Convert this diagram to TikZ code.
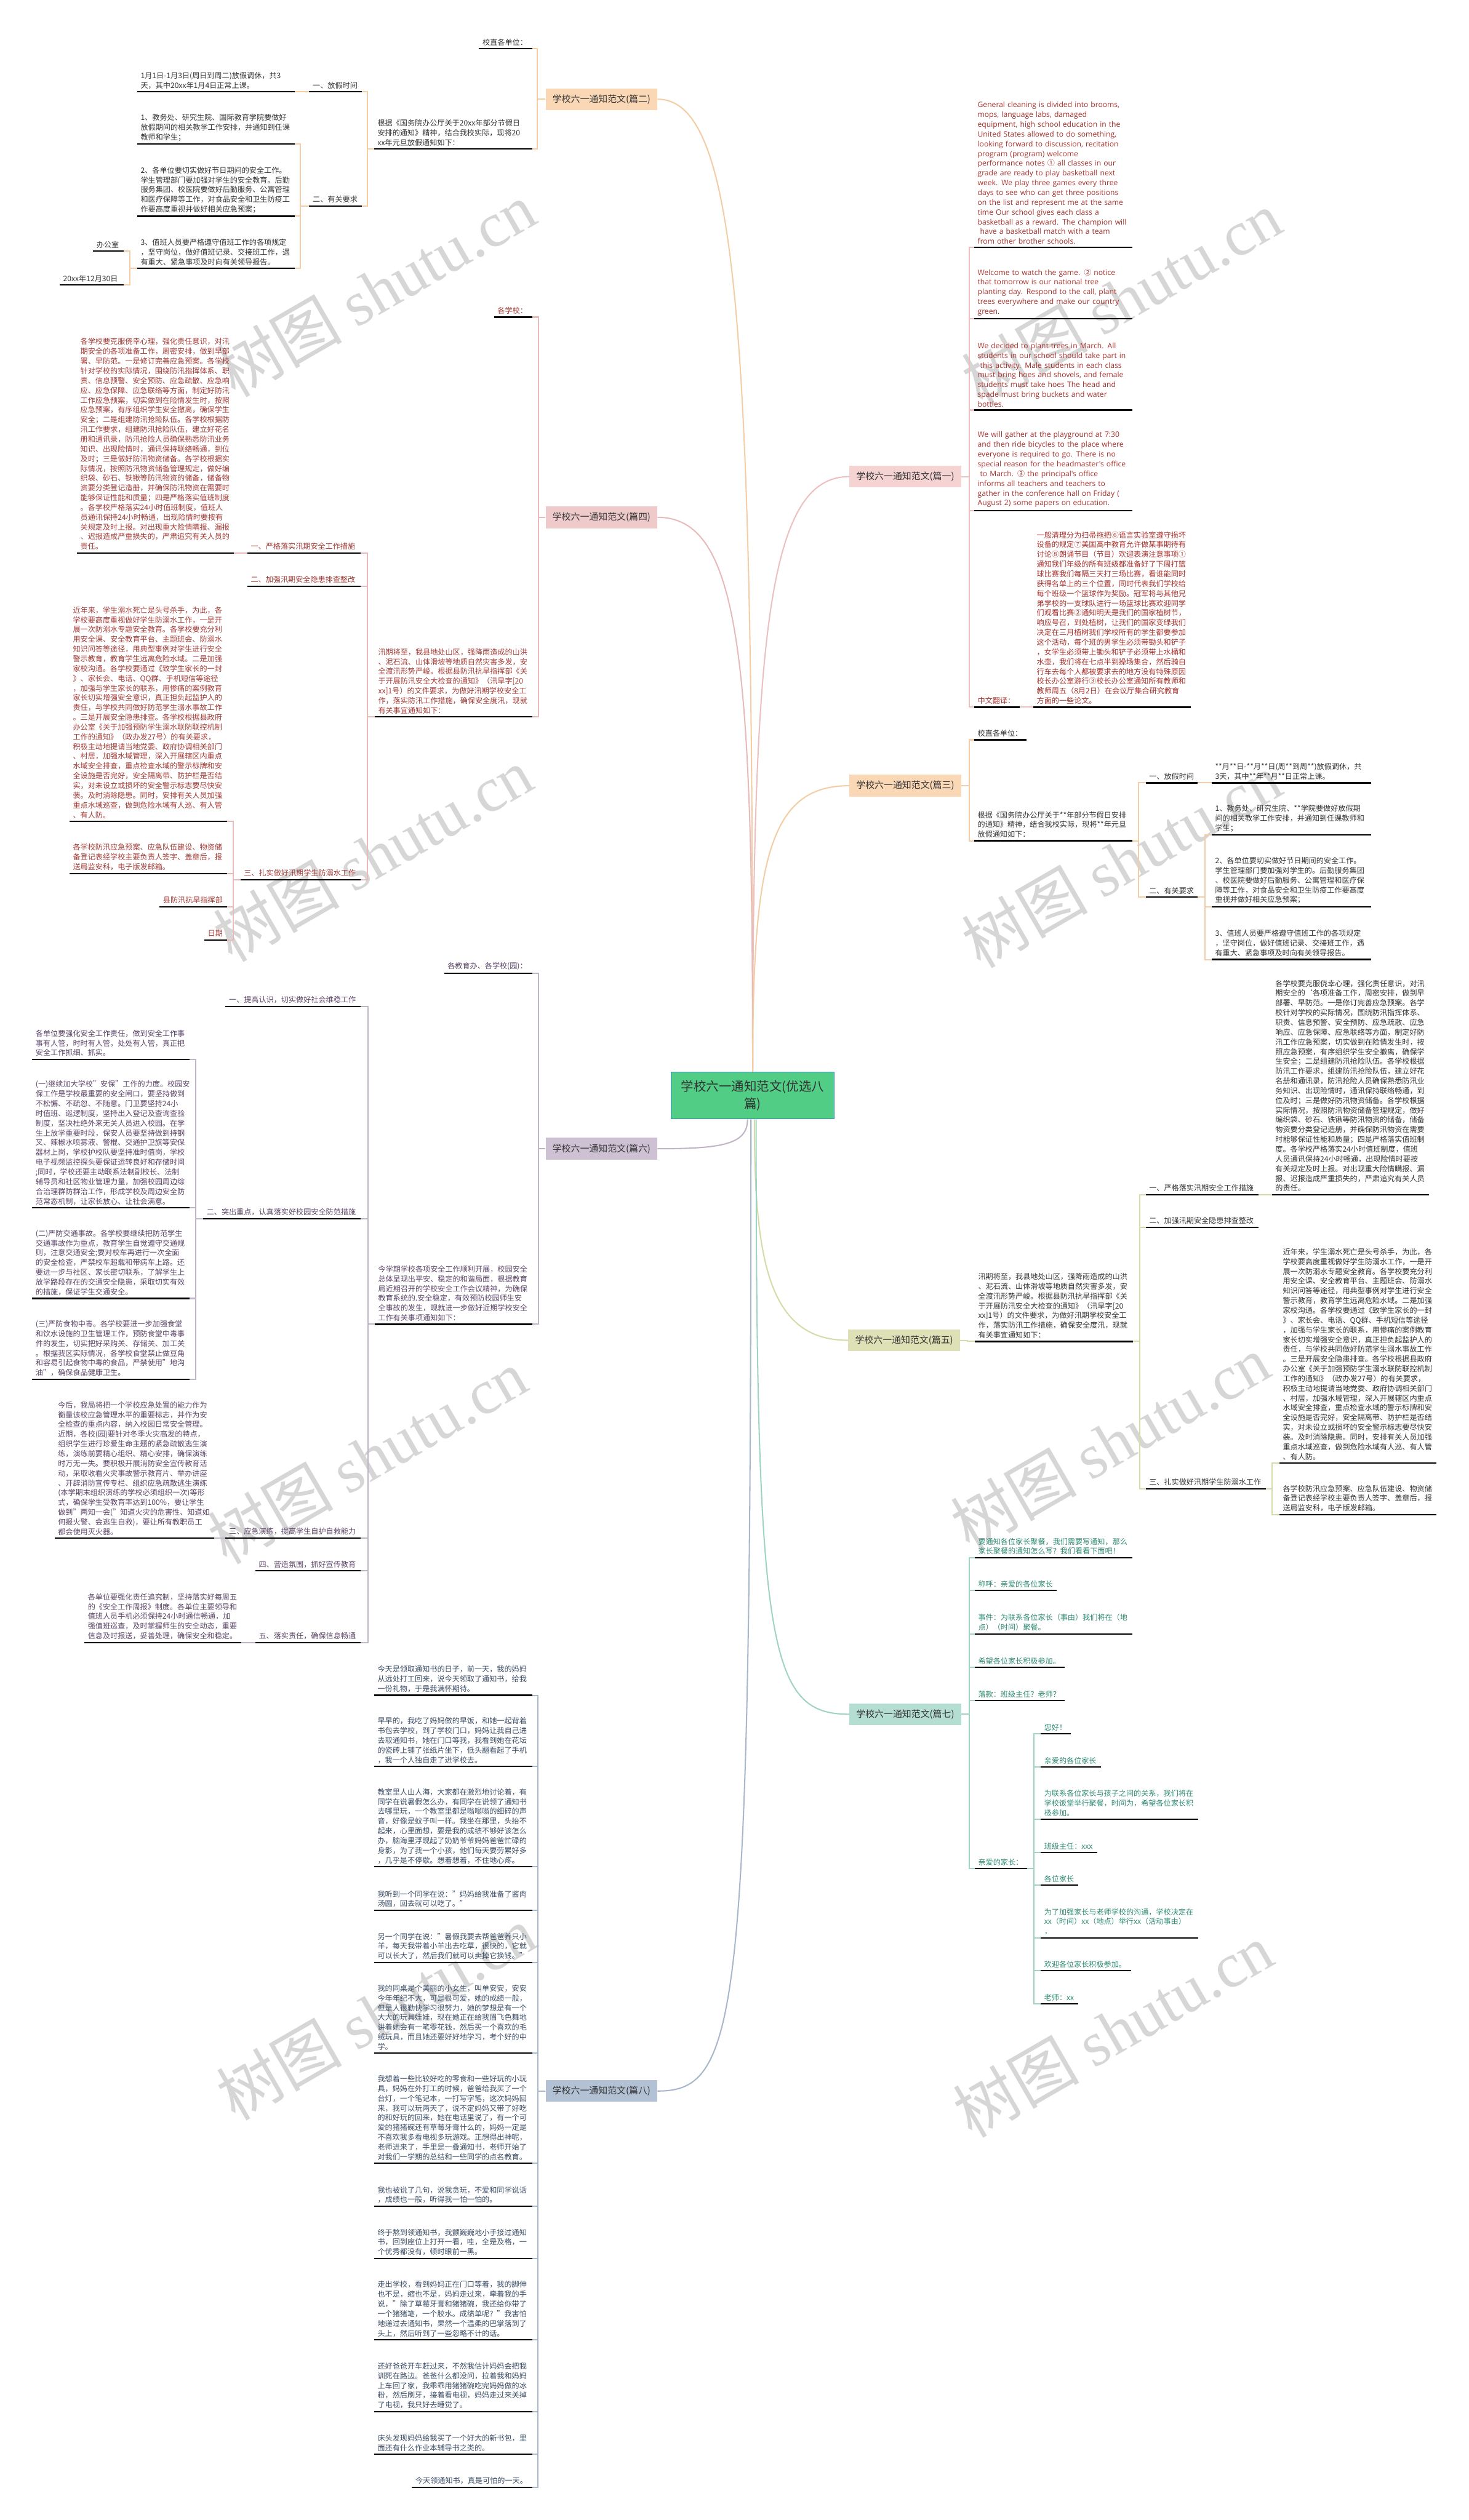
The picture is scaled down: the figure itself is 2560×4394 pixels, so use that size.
\documentclass[tikz,border=0pt]{standalone}
\usepackage{fontspec}
\setmainfont{Noto Sans CJK SC}
\newfontfamily\enfont{Open Sans}
\newfontfamily\wmfont{Liberation Serif}
\usetikzlibrary{calc}
\definecolor{rootF}{HTML}{52CD86}
\definecolor{rootD}{HTML}{3A8EB8}
\definecolor{f1}{HTML}{F6D3D3}\definecolor{l1}{HTML}{EDC0C0}\definecolor{t1}{HTML}{A8322D}
\definecolor{f2}{HTML}{FAD8B6}\definecolor{l2}{HTML}{F2CDA5}\definecolor{t2}{HTML}{333333}
\definecolor{f3}{HTML}{FAD8B6}\definecolor{l3}{HTML}{F2CDA5}\definecolor{t3}{HTML}{333333}
\definecolor{f4}{HTML}{EFCACA}\definecolor{l4}{HTML}{E8BBBB}\definecolor{t4}{HTML}{A23A35}
\definecolor{f5}{HTML}{DEE1B6}\definecolor{l5}{HTML}{D6DBA8}\definecolor{t5}{HTML}{333333}
\definecolor{f6}{HTML}{CDC1D3}\definecolor{l6}{HTML}{C0B5C7}\definecolor{t6}{HTML}{5B4467}
\definecolor{f7}{HTML}{B5DED3}\definecolor{l7}{HTML}{A0D2C5}\definecolor{t7}{HTML}{2E8A72}
\definecolor{f8}{HTML}{B3C1D4}\definecolor{l8}{HTML}{A9B7CB}\definecolor{t8}{HTML}{3C4E66}
\definecolor{wm}{HTML}{D6D6D6}
\newcommand\Lc[4]{\draw[con,#1] (#2) -- ++(-#3,0) |- (#4);}
\newcommand\Rc[4]{\draw[con,#1] (#2) -- ++(#3,0) |- (#4);}
\newcommand\cc[1]{{\rmfamily #1}}
\tikzset{
  lf/.style={anchor=south west, inner xsep=6pt, inner ysep=5pt, align=left, font=\fontsize{13}{17}\selectfont, append after command={(\tikzlastnode.south west) edge[draw=black,line width=2.4pt] (\tikzlastnode.south east)}},
  en/.style={font=\enfont\fontsize{13}{17}\selectfont},
  br/.style={minimum width=195pt, minimum height=38pt, inner sep=2pt, font=\fontsize{16}{20}\selectfont},
  con/.style={line width=2.2pt},
  wmk/.style={rotate=30, text=wm, font=\fontsize{110}{120}\selectfont, inner sep=0pt},
}
\begin{document}
\begin{tikzpicture}[x=1pt,y=-1pt]
\fill[white] (0,0) rectangle (2560,4394);
\useasboundingbox (0,0) rectangle (2560,4394);
% watermarks
\node[wmk] (w1) at (655,505) {树图 {\wmfont shutu.cn}};
\node[wmk] (w2) at (1955,520) {树图 {\wmfont shutu.cn}};
\node[wmk] (w3) at (650,1490) {树图 {\wmfont shutu.cn}};
\node[wmk] (w4) at (1955,1500) {树图 {\wmfont shutu.cn}};
\node[wmk] (w5) at (640,2540) {树图 {\wmfont shutu.cn}};
\node[wmk] (w6) at (1935,2515) {树图 {\wmfont shutu.cn}};
\node[wmk] (w7) at (655,3510) {树图 {\wmfont shutu.cn}};
\node[wmk] (w8) at (1940,3540) {树图 {\wmfont shutu.cn}};

% root
\node[draw=rootD, fill=rootF, line width=1.5pt, minimum width=284pt, minimum height=82pt, align=center, font=\fontsize{22}{30}\selectfont, text=black!80] (root) at (1312,1910) {学校六一通知范文(优选八\\篇)};

% branch boxes
\node[br, fill=f2, text=black!80] (b2) at (1048.5,173) {学校六一通知范文(篇二)};
\node[br, fill=f1, text=black!80] (b1) at (1578,831) {学校六一通知范文(篇一)};
\node[br, fill=f4, text=black!80] (b4) at (1048.5,902) {学校六一通知范文(篇四)};
\node[br, fill=f3, text=black!80] (b3) at (1578,1370) {学校六一通知范文(篇三)};
\node[br, fill=f6, text=black!80] (b6) at (1048.5,2003) {学校六一通知范文(篇六)};
\node[br, fill=f5, text=black!80] (b5) at (1576,2337) {学校六一通知范文(篇五)};
\node[br, fill=f7, text=black!80] (b7) at (1578,2989) {学校六一通知范文(篇七)};
\node[br, fill=f8, text=black!80] (b8) at (1048.5,3646) {学校六一通知范文(篇八)};

% curves
\draw[con,l2] (root.north) .. controls (1312,600) and (1290,173) .. (b2.east);
\draw[con,l1] (root.north) .. controls (1312,1100) and (1340,831) .. (b1.west);
\draw[con,l4] (root.north) .. controls (1312,1150) and (1290,902) .. (b4.east);
\draw[con,l3] (root.north) .. controls (1312,1500) and (1340,1370) .. (b3.west);
\draw[con,l6] ($(root.south)+(-9,0)$) .. controls (1303,1995) and (1260,2003) .. (b6.east);
\draw[con,l5] ($(root.south)+(3,0)$) .. controls (1315,2200) and (1340,2337) .. (b5.west);
\draw[con,l7] ($(root.south)+(6,0)$) .. controls (1318,2880) and (1340,2989) .. (b7.west);
\draw[con,l8] ($(root.south)+(-3,0)$) .. controls (1309,3520) and (1290,3646) .. (b8.east);

% ===== 篇二 =====
\node[lf, text=t2, text width=80pt] (n2a) at (835,85) {校直各单位：};
\node[lf, text=t2, text width=263pt] (n2b) at (652,260) {根据《国务院办公厅关于20xx年部分节假日\\安排的通知》精神，结合我校实际，现将20\\xx年元旦放假通知如下：};
\node[lf, text=t2, text width=79pt] (n2c) at (539,160) {一、放假时间};
\node[lf, text=t2, text width=79pt] (n2d) at (539,359) {二、有关要求};
\node[lf, text=t2, text width=262pt] (n2e) at (239,160) {1月1日-1月3日(周日到周二)放假调休，共3\\天，其中20xx年1月4日正常上课。};
\node[lf, text=t2, text width=262pt] (n2f) at (239,251) {1、教务处、研究生院、国际教育学院要做好\\放假期间的相关教学工作安排，并通知到任课\\教师和学生；};
\node[lf, text=t2, text width=262pt] (n2g) at (239,377) {2、各单位要切实做好节日期间的安全工作。\\学生管理部门要加强对学生的安全教育。后勤\\服务集团、校医院要做好后勤服务、公寓管理\\和医疗保障等工作，对食品安全和卫生防疫工\\作要高度重视并做好相关应急预案；};
\node[lf, text=t2, text width=262pt] (n2h) at (239,468) {3、值班人员要严格遵守值班工作的各项规定\\，坚守岗位，做好值班记录、交接班工作，遇\\有重大、紧急事项及时向有关领导报告。};
\node[lf, text=t2, text width=41pt] (n2i) at (162,438) {办公室};
\node[lf, text=t2, text width=99pt] (n2j) at (104,497) {20xx年12月30日};
\Lc{l2}{b2.west}{14}{n2a.south east}
\Lc{l2}{b2.west}{14}{n2b.south east}
\Lc{l2}{n2b.south west}{12}{n2c.south east}
\Lc{l2}{n2b.south west}{12}{n2d.south east}
\Lc{l2}{n2c.south west}{13}{n2e.south east}
\Lc{l2}{n2d.south west}{15}{n2f.south east}
\Lc{l2}{n2d.south west}{15}{n2g.south east}
\Lc{l2}{n2d.south west}{15}{n2h.south east}
\Lc{l2}{n2h.south west}{13}{n2i.south east}
\Lc{l2}{n2h.south west}{13}{n2j.south east}

% ===== 篇一 =====
\node[lf, en, text=t1, text width=263pt] (e1) at (1698,431) {\mbox{General cleaning is divided into brooms,}\\\mbox{mops, language labs, damaged}\\\mbox{equipment, high school education in the}\\\mbox{United States allowed to do something,}\\\mbox{looking forward to discussion, recitation}\\\mbox{program (program) welcome}\\\mbox{performance notes \cc{①} all classes in our}\\\mbox{grade are ready to play basketball next}\\\mbox{week. We play three games every three}\\\mbox{days to see who can get three positions}\\\mbox{on the list and represent me at the same}\\\mbox{time Our school gives each class a}\\\mbox{basketball as a reward. The champion will}\\\mbox{\ have a basketball match with a team}\\\mbox{from other brother schools.}};
\node[lf, en, text=t1, text width=263pt] (e2) at (1698,556) {\mbox{Welcome to watch the game. \cc{②} notice}\\\mbox{that tomorrow is our national tree}\\\mbox{planting day. Respond to the call, plant}\\\mbox{trees everywhere and make our country}\\\mbox{green.}};
\node[lf, en, text=t1, text width=263pt] (e3) at (1698,715) {\mbox{We decided to plant trees in March. All}\\\mbox{students in our school should take part in}\\\mbox{\ this activity. Male students in each class}\\\mbox{must bring hoes and shovels, and female}\\\mbox{students must take hoes The head and}\\\mbox{spade must bring buckets and water}\\\mbox{bottles.}};
\node[lf, en, text=t1, text width=263pt] (e4) at (1698,890) {\mbox{We will gather at the playground at 7:30}\\\mbox{and then ride bicycles to the place where}\\\mbox{everyone is required to go. There is no}\\\mbox{special reason for the headmaster's office}\\\mbox{\ to March. \cc{③} the principal's office}\\\mbox{informs all teachers and teachers to}\\\mbox{gather in the conference hall on Friday (}\\\mbox{August 2) some papers on education.}};
\node[lf, text=t1, text width=67pt] (zh) at (1698,1233) {中文翻译：};
\node[lf, text=t1, text width=262pt] (zt) at (1801,1233) {一般清理分为扫帚拖把⑥语言实验室遵守损坏\\设备的规定⑦美国高中教育允许做某事期待有\\讨论⑧朗诵节目（节目）欢迎表演注意事项①\\通知我们年级的所有班级都准备好了下周打篮\\球比赛我们每隔三天打三场比赛，看谁能同时\\获得名单上的三个位置，同时代表我们学校给\\每个班级一个篮球作为奖励。冠军将与其他兄\\弟学校的一支球队进行一场篮球比赛欢迎同学\\们观看比赛②通知明天是我们的国家植树节，\\响应号召，到处植树，让我们的国家变绿我们\\决定在三月植树我们学校所有的学生都要参加\\这个活动，每个班的男学生必须带锄头和铲子\\，女学生必须带上锄头和铲子必须带上水桶和\\水壶，我们将在七点半到操场集合，然后骑自\\行车去每个人都被要求去的地方没有特殊原因\\校长办公室游行③校长办公室通知所有教师和\\教师周五（8月2日）在会议厅集合研究教育\\方面的一些论文。};
\Rc{l1}{b1.east}{14}{e1.south west}
\Rc{l1}{b1.east}{14}{e2.south west}
\Rc{l1}{b1.east}{14}{e3.south west}
\Rc{l1}{b1.east}{14}{e4.south west}
\Rc{l1}{b1.east}{14}{zh.south west}
\Rc{l1}{zh.south east}{12}{zt.south west}

% ===== 篇四 =====
\node[lf, text=t4, text width=55pt] (n4a) at (861,553) {各学校：};
\node[lf, text=t4, text width=263pt] (n4b) at (653,1250) {汛期将至，我县地处山区，强降雨造成的山洪\\、泥石流、山体滑坡等地质自然灾害多发，安\\全渡汛形势严峻。根据县防汛抗旱指挥部《关\\于开展防汛安全大检查的通知》（汛旱字[20\\xx]1号）的文件要求，为做好汛期学校安全工\\作，落实防汛工作措施，确保安全度汛，现就\\有关事宜通知如下：};
\node[lf, text=t4, text width=185pt] (n4c) at (431,964) {一、严格落实汛期安全工作措施};
\node[lf, text=t4, text width=185pt] (n4d) at (431,1022) {二、加强汛期安全隐患排查整改};
\node[lf, text=t4, text width=197pt] (n4e) at (419,1534) {三、扎实做好汛期学生防溺水工作};
\node[lf, text=t4, text width=261pt] (n4f) at (134,964) {各学校要克服侥幸心理，强化责任意识，对汛\\期安全的各项准备工作，周密安排，做到早部\\署、早防范。一是修订完善应急预案。各学校\\针对学校的实际情况，围绕防汛指挥体系、职\\责、信息预警、安全预防、应急疏散、应急响\\应、应急保障、应急联络等方面，制定好防汛\\工作应急预案，切实做到在险情发生时，按照\\应急预案，有序组织学生安全撤离，确保学生\\安全；二是组建防汛抢险队伍。各学校根据防\\汛工作要求，组建防汛抢险队伍，建立好花名\\册和通讯录，防汛抢险人员确保熟悉防汛业务\\知识、出现险情时，通讯保持联络畅通，到位\\及时；三是做好防汛物资储备。各学校根据实\\际情况，按照防汛物资储备管理规定，做好编\\织袋、砂石、铁锹等防汛物资的储备，储备物\\资要分类登记造册，并确保防汛物资在需要时\\能够保证性能和质量；四是严格落实值班制度\\。各学校严格落实24小时值班制度，值班人\\员通讯保持24小时畅通，出现险情时要按有\\关规定及时上报。对出现重大险情瞒报、漏报\\、迟报造成严重损失的，严肃追究有关人员的\\责任。};
\node[lf, text=t4, text width=262pt] (n4g) at (121,1432) {近年来，学生溺水死亡是头号杀手，为此，各\\学校要高度重视做好学生防溺水工作，一是开\\展一次防溺水专题安全教育。各学校要充分利\\用安全课、安全教育平台、主题班会、防溺水\\知识问答等途径，用典型事例对学生进行安全\\警示教育，教育学生远离危险水域。二是加强\\家校沟通。各学校要通过《致学生家长的一封\\》、家长会、电话、QQ群、手机短信等途径\\，加强与学生家长的联系，用惨痛的案例教育\\家长切实增强安全意识，真正担负起监护人的\\责任，与学校共同做好防范学生溺水事故工作\\。三是开展安全隐患排查。各学校根据县政府\\办公室《关于加强预防学生溺水联防联控机制\\工作的通知》（政办发27号）的有关要求，\\积极主动地提请当地党委、政府协调相关部门\\、村居，加强水域管理，深入开展辖区内重点\\水域安全排查，重点检查水域的警示标牌和安\\全设施是否完好，安全隔离带、防护栏是否结\\实，对未设立或损坏的安全警示标志要尽快安\\装。及时消除隐患。同时，安排有关人员加强\\重点水域巡查，做到危险水域有人巡、有人管\\、有人防。};
\node[lf, text=t4, text width=262pt] (n4h) at (121,1523) {各学校防汛应急预案、应急队伍建设、物资储\\备登记表经学校主要负责人签字、盖章后，报\\送局监安科，电子版发邮箱。};
\node[lf, text=t4, text width=105pt] (n4i) at (278,1581) {县防汛抗旱指挥部};
\node[lf, text=t4, text width=27pt] (n4j) at (356,1639) {日期};
\Lc{l4}{b4.west}{12}{n4a.south east}
\Lc{l4}{b4.west}{12}{n4b.south east}
\Lc{l4}{n4b.south west}{13}{n4c.south east}
\Lc{l4}{n4b.south west}{13}{n4d.south east}
\Lc{l4}{n4b.south west}{13}{n4e.south east}
\Lc{l4}{n4c.south west}{12}{n4f.south east}
\Lc{l4}{n4e.south west}{12}{n4g.south east}
\Lc{l4}{n4e.south west}{12}{n4h.south east}
\Lc{l4}{n4e.south west}{12}{n4i.south east}
\Lc{l4}{n4e.south west}{12}{n4j.south east}

% ===== 篇三 =====
\node[lf, text=t3, text width=79pt] (n3a) at (1698,1290) {校直各单位：};
\node[lf, text=t3, text width=263pt] (n3b) at (1698,1466) {根据《国务院办公厅关于**年部分节假日安排\\的通知》精神，结合我校实际，现将**年元旦\\放假通知如下：};
\node[lf, text=t3, text width=78pt] (n3c) at (1997,1365) {一、放假时间};
\node[lf, text=t3, text width=78pt] (n3d) at (1997,1564) {二、有关要求};
\node[lf, text=t3, text width=266pt] (n3e) at (2112,1365) {**月**日-**月**日(周**到周**)放假调休，共\\3天，其中**年**月**日正常上课。};
\node[lf, text=t3, text width=266pt] (n3f) at (2112,1456) {1、教务处、研究生院、**学院要做好放假期\\间的相关教学工作安排，并通知到任课教师和\\学生；};
\node[lf, text=t3, text width=266pt] (n3g) at (2112,1581) {2、各单位要切实做好节日期间的安全工作。\\学生管理部门要加强对学生的。后勤服务集团\\、校医院要做好后勤服务、公寓管理和医疗保\\障等工作，对食品安全和卫生防疫工作要高度\\重视并做好相关应急预案；};
\node[lf, text=t3, text width=266pt] (n3h) at (2112,1673) {3、值班人员要严格遵守值班工作的各项规定\\，坚守岗位，做好值班记录、交接班工作，遇\\有重大、紧急事项及时向有关领导报告。};
\Rc{l3}{b3.east}{14}{n3a.south west}
\Rc{l3}{b3.east}{14}{n3b.south west}
\Rc{l3}{n3b.south east}{11}{n3c.south west}
\Rc{l3}{n3b.south east}{11}{n3d.south west}
\Rc{l3}{n3c.south east}{12}{n3e.south west}
\Rc{l3}{n3d.south east}{13}{n3f.south west}
\Rc{l3}{n3d.south east}{13}{n3g.south west}
\Rc{l3}{n3d.south east}{13}{n3h.south west}

% ===== 篇六 =====
\node[lf, text=t6, text width=141pt] (n6a) at (774,1697) {各教育办、各学校(园)：};
\node[lf, text=t6, text width=262pt] (n6b) at (653,2309) {今学期学校各项安全工作顺利开展，校园安全\\总体呈现出平安、稳定的和谐局面，根据教育\\局近期召开的学校安全工作会议精神，为确保\\教育系统的.安全稳定，有效预防校园师生安\\全事故的发生，现就进一步做好近期学校安全\\工作有关事项通知如下：};
\node[lf, text=t6, text width=223pt] (n6c) at (393,1755) {一、提高认识，切实做好社会维稳工作};
\node[lf, text=t6, text width=262pt] (n6d) at (354,2125) {二、突出重点，认真落实好校园安全防范措施};
\node[lf, text=t6, text width=223pt] (n6e) at (393,2682) {三、应急演练，提高学生自护自救能力};
\node[lf, text=t6, text width=171pt] (n6f) at (445,2739) {四、营造氛围，抓好宣传教育};
\node[lf, text=t6, text width=171pt] (n6g) at (445,2864) {五、落实责任，确保信息畅通};
\node[lf, text=t6, text width=262pt] (n6h) at (56,1847) {各单位要强化安全工作责任，做到安全工作事\\事有人管，时时有人管，处处有人管，真正把\\安全工作抓细、抓实。};
\node[lf, text=t6, text width=262pt] (n6i) at (56,2106) {(一)继续加大学校"安保"工作的力度。校园安\\保工作是学校最重要的安全闸口，要坚持做到\\不松懈、不疏忽、不随意。门卫要坚持24小\\时值班、巡逻制度，坚持出入登记及查询查验\\制度，坚决杜绝外来无关人员进入校园。在学\\生上放学重要时段，保安人员要坚持做到持钢\\叉、辣椒水喷雾液、警棍、交通护卫旗等安保\\器材上岗，学校护校队要坚持准时值岗，学校\\电子视频监控探头要保证运转良好和存储时间\\;同时，学校还要主动联系法制副校长、法制\\辅导员和社区物业管理力量，加强校园周边综\\合治理群防群治工作，形成学校及周边安全防\\范常态机制，让家长放心、让社会满意。};
\node[lf, text=t6, text width=262pt] (n6j) at (56,2264) {(二)严防交通事故。各学校要继续把防范学生\\交通事故作为重点，教育学生自觉遵守交通规\\则，注意交通安全;要对校车再进行一次全面\\的安全检查，严禁校车超载和带病车上路。还\\要进一步与社区、家长密切联系，了解学生上\\放学路段存在的交通安全隐患，采取切实有效\\的措施，保证学生交通安全。};
\node[lf, text=t6, text width=262pt] (n6k) at (56,2405) {(三)严防食物中毒。各学校要进一步加强食堂\\和饮水设施的卫生管理工作，预防食堂中毒事\\件的发生，切实把好采购关、存储关、加工关\\。根据我区实际情况，各学校食堂禁止做豆角\\和容易引起食物中毒的食品，严禁使用"地沟\\油"，确保食品健康卫生。};
\node[lf, text=t6, text width=266pt] (n6l) at (95,2682) {今后，我局将把一个学校应急处置的能力作为\\衡量该校应急管理水平的重要标志，并作为安\\全检查的重点内容，纳入校园日常安全管理。\\近期，各校(园)要针对冬季火灾高发的特点，\\组织学生进行珍爱生命主题的紧急疏散逃生演\\练，演练前要精心组织、精心安排，确保演练\\时万无一失。要积极开展消防安全宣传教育活\\动，采取收看火灾事故警示教育片、举办讲座\\、开辟消防宣传专栏、组织应急疏散逃生演练\\(本学期末组织演练的学校必须组织一次)等形\\式，确保学生受教育率达到100\%，要让学生\\做到"两知一会("知道火灾的危害性、知道如\\何报火警、会逃生自救)，要让所有教职员工\\都会使用灭火器。};
\node[lf, text=t6, text width=261pt] (n6m) at (147,2864) {各单位要强化责任追究制，坚持落实好每周五\\的《安全工作周报》制度。各单位主要领导和\\值班人员手机必须保持24小时通信畅通，加\\强值班巡查，及时掌握师生的安全动态，重要\\信息及时报送，妥善处理，确保安全和稳定。};
\Lc{l6}{b6.west}{12}{n6a.south east}
\Lc{l6}{b6.west}{12}{n6b.south east}
\Lc{l6}{n6b.south west}{12}{n6c.south east}
\Lc{l6}{n6b.south west}{12}{n6d.south east}
\Lc{l6}{n6b.south west}{12}{n6e.south east}
\Lc{l6}{n6b.south west}{12}{n6f.south east}
\Lc{l6}{n6b.south west}{12}{n6g.south east}
\Lc{l6}{n6d.south west}{13}{n6h.south east}
\Lc{l6}{n6d.south west}{13}{n6i.south east}
\Lc{l6}{n6d.south west}{13}{n6j.south east}
\Lc{l6}{n6d.south west}{13}{n6k.south east}
\Lc{l6}{n6e.south west}{10}{n6l.south east}
\Lc{l6}{n6g.south west}{12}{n6m.south east}

% ===== 篇五 =====
\node[lf, text=t5, text width=264pt] (n5a) at (1699,2339) {汛期将至，我县地处山区，强降雨造成的山洪\\、泥石流、山体滑坡等地质自然灾害多发，安\\全渡汛形势严峻。根据县防汛抗旱指挥部《关\\于开展防汛安全大检查的通知》（汛旱字[20\\xx]1号）的文件要求，为做好汛期学校安全工\\作，落实防汛工作措施，确保安全度汛，现就\\有关事宜通知如下：};
\node[lf, text=t5, text width=184pt] (n5b) at (1997,2083) {一、严格落实汛期安全工作措施};
\node[lf, text=t5, text width=184pt] (n5c) at (1997,2140) {二、加强汛期安全隐患排查整改};
\node[lf, text=t5, text width=197pt] (n5d) at (1997,2596) {三、扎实做好汛期学生防溺水工作};
\node[lf, text=t5, text width=261pt] (n5e) at (2217,2083) {各学校要克服侥幸心理，强化责任意识，对汛\\期安全的`各项准备工作，周密安排，做到早\\部署、早防范。一是修订完善应急预案。各学\\校针对学校的实际情况，围绕防汛指挥体系、\\职责、信息预警、安全预防、应急疏散、应急\\响应、应急保障、应急联络等方面，制定好防\\汛工作应急预案，切实做到在险情发生时，按\\照应急预案，有序组织学生安全撤离，确保学\\生安全；二是组建防汛抢险队伍。各学校根据\\防汛工作要求，组建防汛抢险队伍，建立好花\\名册和通讯录，防汛抢险人员确保熟悉防汛业\\务知识、出现险情时，通讯保持联络畅通，到\\位及时；三是做好防汛物资储备。各学校根据\\实际情况，按照防汛物资储备管理规定，做好\\编织袋、砂石、铁锹等防汛物资的储备，储备\\物资要分类登记造册，并确保防汛物资在需要\\时能够保证性能和质量；四是严格落实值班制\\度。各学校严格落实24小时值班制度，值班\\人员通讯保持24小时畅通，出现险情时要按\\有关规定及时上报。对出现重大险情瞒报、漏\\报、迟报造成严重损失的，严肃追究有关人员\\的责任。};
\node[lf, text=t5, text width=261pt] (n5f) at (2230,2551) {近年来，学生溺水死亡是头号杀手，为此，各\\学校要高度重视做好学生防溺水工作，一是开\\展一次防溺水专题安全教育。各学校要充分利\\用安全课、安全教育平台、主题班会、防溺水\\知识问答等途径，用典型事例对学生进行安全\\警示教育，教育学生远离危险水域。二是加强\\家校沟通。各学校要通过《致学生家长的一封\\》、家长会、电话、QQ群、手机短信等途径\\，加强与学生家长的联系，用惨痛的案例教育\\家长切实增强安全意识，真正担负起监护人的\\责任，与学校共同做好防范学生溺水事故工作\\。三是开展安全隐患排查。各学校根据县政府\\办公室《关于加强预防学生溺水联防联控机制\\工作的通知》（政办发27号）的有关要求，\\积极主动地提请当地党委、政府协调相关部门\\、村居，加强水域管理，深入开展辖区内重点\\水域安全排查，重点检查水域的警示标牌和安\\全设施是否完好，安全隔离带、防护栏是否结\\实，对未设立或损坏的安全警示标志要尽快安\\装。及时消除隐患。同时，安排有关人员加强\\重点水域巡查，做到危险水域有人巡、有人管\\、有人防。};
\node[lf, text=t5, text width=261pt] (n5g) at (2230,2641) {各学校防汛应急预案、应急队伍建设、物资储\\备登记表经学校主要负责人签字、盖章后，报\\送局监安科，电子版发邮箱。};
\Rc{l5}{b5.east}{13}{n5a.south west}
\Rc{l5}{n5a.south east}{11}{n5b.south west}
\Rc{l5}{n5a.south east}{11}{n5c.south west}
\Rc{l5}{n5a.south east}{11}{n5d.south west}
\Rc{l5}{n5b.south east}{12}{n5e.south west}
\Rc{l5}{n5d.south east}{11}{n5f.south west}
\Rc{l5}{n5d.south east}{11}{n5g.south west}

% ===== 篇七 =====
\node[lf, text=t7, text width=262pt] (n7a) at (1699,2716) {要通知各位家长聚餐，我们需要写通知，那么\\家长聚餐的通知怎么写？我们看看下面吧！};
\node[lf, text=t7, text width=131pt] (n7b) at (1699,2773) {称呼：亲爱的各位家长};
\node[lf, text=t7, text width=262pt] (n7c) at (1699,2849) {事件：为联系各位家长（事由）我们将在（地\\点）（时间）聚餐。};
\node[lf, text=t7, text width=144pt] (n7d) at (1699,2907) {希望各位家长积极参加。};
\node[lf, text=t7, text width=144pt] (n7e) at (1699,2965) {落款：班级主任？老师？};
\node[lf, text=t7, text width=79pt] (n7f) at (1699,3258) {亲爱的家长：};
\node[lf, text=t7, text width=40pt] (n7g) at (1814,3023) {您好！};
\node[lf, text=t7, text width=93pt] (n7h) at (1814,3081) {亲爱的各位家长};
\node[lf, text=t7, text width=262pt] (n7i) at (1814,3172) {为联系各位家长与孩子之间的关系，我们将在\\学校饭堂举行聚餐，时间为，希望各位家长积\\极参加。};
\node[lf, text=t7, text width=86pt] (n7j) at (1814,3230) {班级主任：xxx};
\node[lf, text=t7, text width=53pt] (n7k) at (1814,3287) {各位家长};
\node[lf, text=t7, text width=262pt] (n7l) at (1814,3379) {为了加强家长与老师学校的沟通，学校决定在\\xx（时间）xx（地点）举行xx（活动事由）\\，};
\node[lf, text=t7, text width=145pt] (n7m) at (1814,3436) {欢迎各位家长积极参加。};
\node[lf, text=t7, text width=53pt] (n7n) at (1814,3494) {老师：xx};
\Rc{l7}{b7.east}{14}{n7a.south west}
\Rc{l7}{b7.east}{14}{n7b.south west}
\Rc{l7}{b7.east}{14}{n7c.south west}
\Rc{l7}{b7.east}{14}{n7d.south west}
\Rc{l7}{b7.east}{14}{n7e.south west}
\Rc{l7}{b7.east}{14}{n7f.south west}
\Rc{l7}{n7f.south east}{12}{n7g.south west}
\Rc{l7}{n7f.south east}{12}{n7h.south west}
\Rc{l7}{n7f.south east}{12}{n7i.south west}
\Rc{l7}{n7f.south east}{12}{n7j.south west}
\Rc{l7}{n7f.south east}{12}{n7k.south west}
\Rc{l7}{n7f.south east}{12}{n7l.south west}
\Rc{l7}{n7f.south east}{12}{n7m.south west}
\Rc{l7}{n7f.south east}{12}{n7n.south west}

% ===== 篇八 =====
\node[lf, text=t8, text width=263pt] (n8a) at (652,2956) {今天是领取通知书的日子，前一天，我的妈妈\\从远处打工回来，说今天领取了通知书，给我\\一份礼物，于是我满怀期待。};
\node[lf, text=t8, text width=263pt] (n8b) at (652,3080) {早早的，我吃了妈妈做的早饭，和她一起背着\\书包去学校，到了学校门口，妈妈让我自己进\\去取通知书，她在门口等我，我看到她在花坛\\的瓷砖上铺了张纸片坐下，低头翻看起了手机\\，我一个人独自走了进学校去。};
\node[lf, text=t8, text width=263pt] (n8c) at (652,3255) {教室里人山人海，大家都在激烈地讨论着，有\\同学在说暑假怎么办，有同学在说领了通知书\\去哪里玩，一个教室里都是嗡嗡嗡的细碎的声\\音，好像是蚊子叫一样。我坐在那里，头抬不\\起来，心里面想，要是我的成绩不够好该怎么\\办，脑海里浮现起了奶奶爷爷妈妈爸爸忙碌的\\身影，为了我一个小孩，他们每天要劳累好多\\，几乎是不停歇。想着想着，不住地心疼。};
\node[lf, text=t8, text width=263pt] (n8d) at (652,3331) {我听到一个同学在说："妈妈给我准备了酱肉\\汤圆，回去就可以吃了。"};
\node[lf, text=t8, text width=263pt] (n8e) at (652,3422) {另一个同学在说："暑假我要去帮爸爸养只小\\羊，每天我带着小羊出去吃草，很快的，它就\\可以长大了，然后我们就可以卖掉它换钱。"};
\node[lf, text=t8, text width=263pt] (n8f) at (652,3580) {我的同桌是个美丽的小女生，叫单安安，安安\\今年年纪不大，可是很可爱，她的成绩一般，\\但是人很勤快学习很努力，她的梦想是有一个\\大大的玩具娃娃，现在她正在给我眉飞色舞地\\讲着她会有一笔零花钱，然后买一个喜欢的毛\\绒玩具，而且她还要好好地学习，考个好的中\\学。};
\node[lf, text=t8, text width=263pt] (n8g) at (652,3772) {我想着一些比较好吃的零食和一些好玩的小玩\\具，妈妈在外打工的时候，爸爸给我买了一个\\台灯，一个笔记本，一打写字笔，这次妈妈回\\来，我可以玩两天了，说不定妈妈又带了好吃\\的和好玩的回来，她在电话里说了，有一个可\\爱的猪猪碗还有草莓牙膏什么的，妈妈一定是\\不喜欢我多看电视多玩游戏。正想得出神呢，\\老师进来了，手里是一叠通知书，老师开始了\\对我们一学期的总结和一些同学的点名教育。};
\node[lf, text=t8, text width=263pt] (n8h) at (652,3847) {我也被说了几句，说我贪玩，不爱和同学说话\\，成绩也一般，听得我一怕一怕的。};
\node[lf, text=t8, text width=263pt] (n8i) at (652,3938) {终于熬到领通知书，我颤巍巍地小手接过通知\\书，回到座位上打开一看，哇，全是及格，一\\个优秀都没有，顿时眼前一黑。};
\node[lf, text=t8, text width=263pt] (n8j) at (652,4080) {走出学校，看到妈妈正在门口等着，我的脚伸\\也不是，缩也不是，妈妈走过来，牵着我的手\\说，"除了草莓牙膏和猪猪碗，我还给你带了\\一个猪猪笔，一个胶水。成绩单呢？"我害怕\\地递过去通知书，果然一个温柔的巴掌落到了\\头上，然后听到了一些忽略不计的话。};
\node[lf, text=t8, text width=263pt] (n8k) at (652,4205) {还好爸爸开车赶过来，不然我估计妈妈会把我\\训死在路边。爸爸什么都没问，拉着我和妈妈\\上车回了家，我乖乖用猪猪碗吃完妈妈做的冰\\粉，然后刷牙，接着看电视，妈妈走过来关掉\\了电视，我只好去睡觉了。};
\node[lf, text=t8, text width=263pt] (n8l) at (652,4279) {床头发现妈妈给我买了一个好大的新书包，里\\面还有什么作业本辅导书之类的。};
\node[lf, text=t8, text width=197pt] (n8m) at (718,4337) {今天领通知书，真是可怕的一天。};
\Lc{l8}{b8.west}{13}{n8a.south east}
\Lc{l8}{b8.west}{13}{n8b.south east}
\Lc{l8}{b8.west}{13}{n8c.south east}
\Lc{l8}{b8.west}{13}{n8d.south east}
\Lc{l8}{b8.west}{13}{n8e.south east}
\Lc{l8}{b8.west}{13}{n8f.south east}
\Lc{l8}{b8.west}{13}{n8g.south east}
\Lc{l8}{b8.west}{13}{n8h.south east}
\Lc{l8}{b8.west}{13}{n8i.south east}
\Lc{l8}{b8.west}{13}{n8j.south east}
\Lc{l8}{b8.west}{13}{n8k.south east}
\Lc{l8}{b8.west}{13}{n8l.south east}
\Lc{l8}{b8.west}{13}{n8m.south east}
\end{tikzpicture}
\end{document}
